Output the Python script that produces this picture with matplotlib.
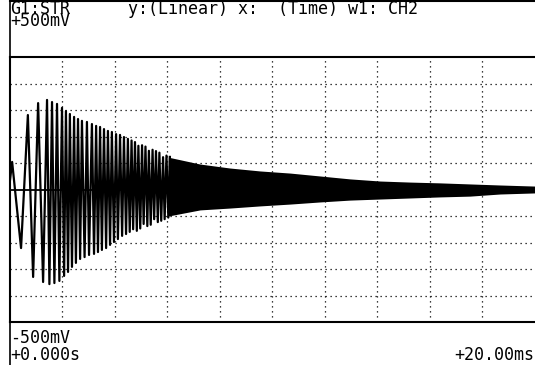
import numpy as np
import matplotlib.pyplot as plt

# resolved extrema of the waveform (ms, mV)
peak_t = [0.02, 0.10, 0.44, 0.70, 0.90, 1.09, 1.28, 1.43, 1.52, 1.62, 1.71, 1.81, 1.90,
          2.00, 2.08, 2.15, 2.23, 2.30, 2.38, 2.46, 2.53, 2.61, 2.69, 2.76, 2.86, 2.95,
          3.03, 3.14, 3.22, 3.30, 3.37, 3.45, 3.52, 3.60, 3.68, 3.75, 3.83, 3.90, 3.98,
          4.06, 4.13, 4.21, 4.29, 4.36, 4.44, 4.51,
          4.58, 4.65, 4.71, 4.78, 4.85, 4.91, 4.98, 5.05, 5.11, 5.18, 5.25, 5.31,
          5.38, 5.45, 5.51, 5.58, 5.65, 5.71, 5.78, 5.85, 5.91, 5.98, 6.05, 6.11]
peak_v = [36, 104, -221, 281, -330, 326, -349, 338, -357, 330, -353, 323, -345,
          308, -326, 296, -311, 285, -292, 274, -277, 266, -262, 259, -255, 255,
          -247, 247, -243, 240, -236, 236, -228, 228, -221, 221, -209, 217, -198,
          209, -187, 206, -175, 198, -168, 191,
          -160, 185, -150, 179, -156, 165, -147, 167, -130, 162, -138, 146,
          -133, 150, -112, 145, -123, 139, -118, 122, -112, 128, -106, 123]

# envelope of the dense part (ms, mV)
env_t = [6.05, 7.26, 8.40, 9.54, 10.69, 11.83, 12.97, 14.11, 15.26,
         16.40, 17.54, 18.69, 20.0]
env_hi = [122, 96, 81, 70, 62, 51, 40, 32, 28, 25, 21, 17, 13]
env_lo = [-100, -77, -70, -62, -55, -47, -40, -36, -32, -28, -25, -17, -13]

fig = plt.figure(figsize=(5.35, 3.65), dpi=100)
ax = fig.add_axes([9.5/535, 43/365, 525/535, 265/365])
ax.set_xlim(0, 20)
ax.set_ylim(-500, 500)

dot = (0, (1, 3))
for gx in np.arange(2, 20, 2):
    ax.axvline(gx, color='black', lw=0.9, ls=dot)
for gy in np.arange(-400, 500, 100):
    if gy == 0:
        continue
    ax.axhline(gy, color='black', lw=0.9, ls=dot)
ax.axhline(0, color='black', lw=1.3)

ax.plot(peak_t, peak_v, color='black', lw=1.6)
ax.fill_between(env_t, env_lo, env_hi, color='black', lw=0)

ax.set_xticks([])
ax.set_yticks([])
ax.spines['right'].set_visible(False)
for s in ['left', 'top', 'bottom']:
    ax.spines[s].set_linewidth(1.5)

# outer frame lines of the screen
fig.add_artist(plt.Line2D([9.5/535, 9.5/535], [0, 1], color='black', lw=1.2))
fig.add_artist(plt.Line2D([9.5/535, 1], [1 - 1/365, 1 - 1/365], color='black', lw=1.5))

fs = 12
fam = 'DejaVu Sans Mono'
fig.text(10.5/535, 1 - 13.5/365, 'G1:STR', fontsize=fs, family=fam, va='baseline')
fig.text(128/535, 1 - 13.5/365, 'y:(Linear) x:  (Time) w1: CH2', fontsize=fs, family=fam, va='baseline')
fig.text(10.5/535, 1 - 26/365, '+500mV', fontsize=fs, family=fam, va='baseline')
fig.text(10.5/535, 1 - 343/365, '-500mV', fontsize=fs, family=fam, va='baseline')
fig.text(10.5/535, 1 - 360/365, '+0.000s', fontsize=fs, family=fam, va='baseline')
fig.text(534/535, 1 - 360/365, '+20.00ms', fontsize=fs, family=fam, va='baseline', ha='right')

fig.savefig('out.png', dpi=100)
